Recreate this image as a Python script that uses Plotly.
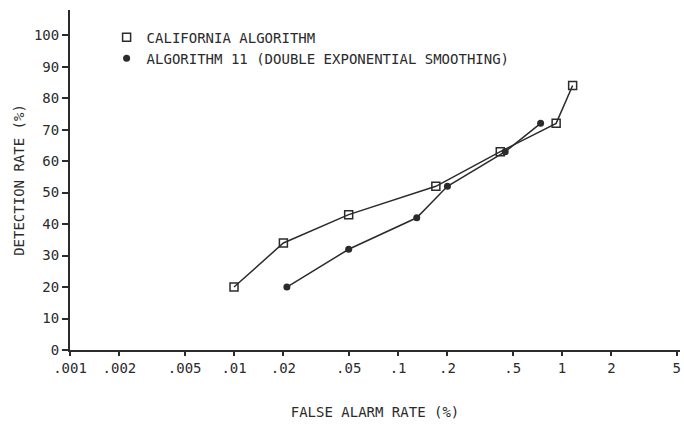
import plotly.graph_objects as go
import math

# False alarm rate (%) and detection rate (%)
cal_far = [0.01, 0.02, 0.05, 0.17, 0.42, 0.92, 1.16]
cal_dr = [20, 34, 43, 52, 63, 72, 84]
alg_far = [0.021, 0.05, 0.13, 0.2, 0.45, 0.74]
alg_dr = [20, 32, 42, 52, 63, 72]

x_ticks = [0.001, 0.002, 0.005, 0.01, 0.02, 0.05, 0.1, 0.2, 0.5, 1, 2, 5]
x_labels = [".001", ".002", ".005", ".01", ".02", ".05", ".1", ".2", ".5", "1", "2", "5"]
y_ticks = [0, 10, 20, 30, 40, 50, 60, 70, 80, 90, 100]

ink = "#2b2b2b"
font = "DejaVu Sans Mono"

fig = go.Figure()
fig.add_trace(go.Scatter(x=cal_far, y=cal_dr, mode="lines+markers", showlegend=False,
                         line=dict(color=ink, width=1.5),
                         marker=dict(symbol="square-open", size=8, color=ink, line=dict(width=1.5))))
fig.add_trace(go.Scatter(x=alg_far, y=alg_dr, mode="lines+markers", showlegend=False,
                         line=dict(color=ink, width=1.5),
                         marker=dict(symbol="circle", size=7, color=ink)))
# legend entries (marker only)
fig.add_trace(go.Scatter(x=[None], y=[None], mode="markers", name="CALIFORNIA ALGORITHM",
                         marker=dict(symbol="square-open", size=8, color=ink, line=dict(width=1.5))))
fig.add_trace(go.Scatter(x=[None], y=[None], mode="markers", name="ALGORITHM 11 (DOUBLE EXPONENTIAL SMOOTHING)",
                         marker=dict(symbol="circle", size=7, color=ink)))

fig.update_layout(
    width=684, height=427,
    margin=dict(l=70, r=4, t=10, b=77),
    paper_bgcolor="white", plot_bgcolor="white",
    font=dict(family=font, size=14, color=ink),
    legend=dict(x=0.06, y=0.966, xanchor="left", yanchor="top",
                bgcolor="rgba(0,0,0,0)", font=dict(size=14, family=font, color=ink),
                itemwidth=30, tracegroupgap=0),
    xaxis=dict(type="log", range=[-3, math.log10(5) + 0.02],
               tickvals=x_ticks, ticktext=x_labels,
               showline=True, linecolor=ink, linewidth=2,
               ticks="outside", ticklen=4, tickcolor=ink, tickwidth=2,
               showgrid=False, zeroline=False,
               tickfont=dict(size=14, family=font, color=ink),
               title=dict(text="FALSE ALARM RATE (%)", font=dict(size=14, family=font, color=ink), standoff=32)),
    yaxis=dict(range=[0, 108], tickvals=y_ticks,
               showline=True, linecolor=ink, linewidth=2,
               ticks="outside", ticklen=6, tickcolor=ink, tickwidth=1.5,
               showgrid=False, zeroline=False,
               tickfont=dict(size=14, family=font, color=ink),
               title=dict(text="DETECTION RATE (%)", font=dict(size=14, family=font, color=ink), standoff=6)),
)

fig.write_html("out.html")
